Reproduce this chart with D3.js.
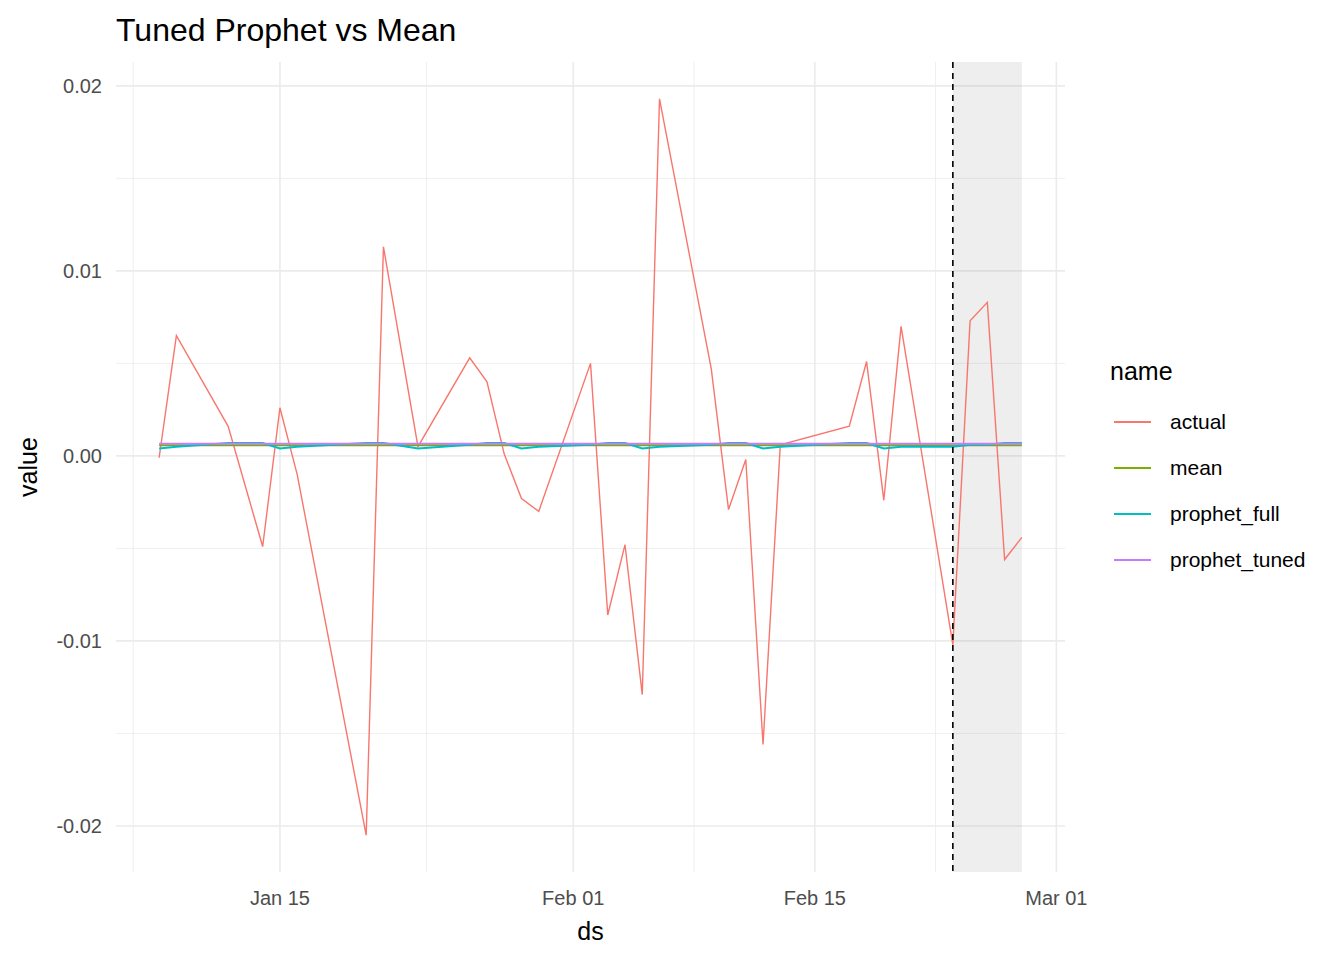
<!DOCTYPE html>
<html>
<head>
<meta charset="utf-8">
<script src="https://cdn.jsdelivr.net/npm/d3@7"></script>
<style>
  body { margin: 0; background: #fff; }
  text { font-family: "Liberation Sans", Arial, sans-serif; }
</style>
</head>
<body>
<div id="vis"></div>
<script>
// trading days (2025)
const dates = ['2025-01-08','2025-01-09','2025-01-12','2025-01-14','2025-01-15','2025-01-16','2025-01-20','2025-01-21',
  '2025-01-23','2025-01-26','2025-01-27','2025-01-28','2025-01-29','2025-01-30','2025-02-02','2025-02-03','2025-02-04',
  '2025-02-05','2025-02-06','2025-02-09','2025-02-10','2025-02-11','2025-02-12','2025-02-13','2025-02-17','2025-02-18',
  '2025-02-19','2025-02-20','2025-02-23','2025-02-24','2025-02-25','2025-02-26','2025-02-27'];

const actual = [-0.0001, 0.0065, 0.0016, -0.0049, 0.0026, -0.0010, -0.0205, 0.0113,
  0.0005, 0.0053, 0.0040, 0.0001, -0.0023, -0.0030, 0.0050, -0.0086, -0.0048,
  -0.0129, 0.0193, 0.0047, -0.0029, -0.0002, -0.0156, 0.0006, 0.0016, 0.0051,
  -0.0024, 0.0070, -0.0102, 0.0073, 0.0083, -0.0056, -0.0044];

const meanVal = 0.00058;
const mean = dates.map(() => meanVal);

const prophetFull = [0.0004, 0.0005, 0.0007, 0.0007, 0.0004, 0.0005, 0.0007, 0.0007,
  0.0004, 0.0006, 0.0007, 0.0007, 0.0004, 0.0005, 0.0006, 0.0007, 0.0007,
  0.0004, 0.0005, 0.0006, 0.0007, 0.0007, 0.0004, 0.0005, 0.0007, 0.0007,
  0.0004, 0.0005, 0.0005, 0.0006, 0.0006, 0.0007, 0.0007];

const prophetTuned = dates.map(() => 0.00065);

const seriesNames = ['actual', 'mean', 'prophet_full', 'prophet_tuned'];
const seriesColors = ['#F8766D', '#7CAE00', '#00BFC4', '#C77CFF'];
const seriesValues = [actual, mean, prophetFull, prophetTuned];

const cutoffDate = '2025-02-23';
const xTickDates = ['2025-01-15', '2025-02-01', '2025-02-15', '2025-03-01'];
const xTickLabels = ['Jan 15', 'Feb 01', 'Feb 15', 'Mar 01'];
const xMinorDates = ['2025-01-06T12:00', '2025-01-23T12:00', '2025-02-08', '2025-02-22'];
const yTicks = [-0.02, -0.01, 0.00, 0.01, 0.02];
const yMinor = [-0.015, -0.005, 0.005, 0.015];

const W = 1344, H = 960;
const panel = { left: 116, right: 1065, top: 62, bottom: 872 };
const parse = d3.isoParse;

const svg = d3.select('#vis').append('svg').attr('width', W).attr('height', H);

const xDom = d3.extent(dates, parse);
const span = xDom[1] - xDom[0];
const x = d3.scaleTime()
  .domain([new Date(+xDom[0] - span * 0.05), new Date(+xDom[1] + span * 0.05)])
  .range([panel.left, panel.right]);

const allY = seriesValues.flat();
const yExt = d3.extent(allY);
const ySpan = yExt[1] - yExt[0];
const y = d3.scaleLinear()
  .domain([yExt[0] - ySpan * 0.05, yExt[1] + ySpan * 0.05])
  .range([panel.bottom, panel.top]);

// grid
const grid = svg.append('g');
grid.selectAll('.ym').data(yMinor).join('line')
  .attr('x1', panel.left).attr('x2', panel.right)
  .attr('y1', d => y(d)).attr('y2', d => y(d))
  .attr('stroke', '#EBEBEB').attr('stroke-width', 0.8);
grid.selectAll('.xm').data(xMinorDates).join('line')
  .attr('x1', d => x(parse(d))).attr('x2', d => x(parse(d)))
  .attr('y1', panel.top).attr('y2', panel.bottom)
  .attr('stroke', '#EBEBEB').attr('stroke-width', 0.8);
grid.selectAll('.yM').data(yTicks).join('line')
  .attr('x1', panel.left).attr('x2', panel.right)
  .attr('y1', d => y(d)).attr('y2', d => y(d))
  .attr('stroke', '#EBEBEB').attr('stroke-width', 1.6);
grid.selectAll('.xM').data(xTickDates).join('line')
  .attr('x1', d => x(parse(d))).attr('x2', d => x(parse(d)))
  .attr('y1', panel.top).attr('y2', panel.bottom)
  .attr('stroke', '#EBEBEB').attr('stroke-width', 1.6);

// forecast shading
svg.append('rect')
  .attr('x', x(parse(cutoffDate)))
  .attr('y', panel.top)
  .attr('width', x(parse(dates[dates.length - 1])) - x(parse(cutoffDate)))
  .attr('height', panel.bottom - panel.top)
  .attr('fill', '#8c8c8c').attr('opacity', 0.15);

// lines
const line = d3.line().x((d, i) => x(parse(dates[i]))).y(d => y(d));
seriesValues.forEach((vals, k) => {
  svg.append('path').datum(vals)
    .attr('d', line)
    .attr('fill', 'none')
    .attr('stroke', seriesColors[k])
    .attr('stroke-width', k === 0 ? 1.4 : 2);
});

// cutoff line
svg.append('line')
  .attr('x1', x(parse(cutoffDate))).attr('x2', x(parse(cutoffDate)))
  .attr('y1', panel.top).attr('y2', panel.bottom)
  .attr('stroke', '#000').attr('stroke-width', 1.6).attr('stroke-dasharray', '6,5');

// tick labels
svg.selectAll('.xt').data(xTickDates).join('text')
  .attr('x', d => x(parse(d))).attr('y', 905)
  .attr('text-anchor', 'middle').attr('font-size', 20).attr('fill', '#4D4D4D')
  .text((d, i) => xTickLabels[i]);
svg.selectAll('.yt').data(yTicks).join('text')
  .attr('x', 102).attr('y', d => y(d) + 7)
  .attr('text-anchor', 'end').attr('font-size', 20).attr('fill', '#4D4D4D')
  .text(d => d3.format('.2f')(d).replace('\u2212', '-'));

// titles
svg.append('text').attr('x', 116).attr('y', 41).attr('font-size', 32).attr('fill', '#000')
  .text('Tuned Prophet vs Mean');
svg.append('text').attr('x', (panel.left + panel.right) / 2).attr('y', 940)
  .attr('text-anchor', 'middle').attr('font-size', 25).text('ds');
svg.append('text').attr('transform', `translate(37,${(panel.top + panel.bottom) / 2}) rotate(-90)`)
  .attr('text-anchor', 'middle').attr('font-size', 25).text('value');

// legend
const lg = svg.append('g');
lg.append('text').attr('x', 1110).attr('y', 380).attr('font-size', 25).text('name');
seriesNames.forEach((n, i) => {
  const yy = 422 + i * 46;
  lg.append('line').attr('x1', 1114).attr('x2', 1151).attr('y1', yy).attr('y2', yy)
    .attr('stroke', seriesColors[i]).attr('stroke-width', 2);
  lg.append('text').attr('x', 1170).attr('y', yy + 7).attr('font-size', 21).text(n);
});
</script>
</body>
</html>
